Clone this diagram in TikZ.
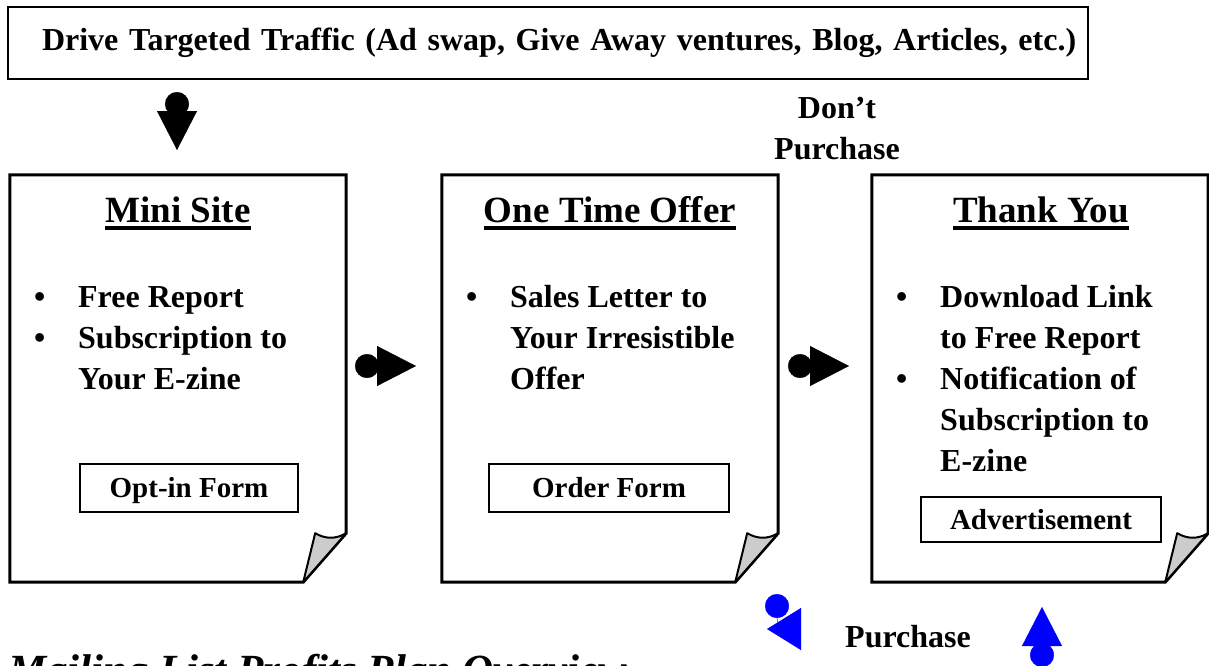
\documentclass[tikz,border=0pt]{standalone}
\usepackage{fontspec}
\setmainfont{Liberation Serif}
\usepackage{tikz}
\usetikzlibrary{positioning,arrows.meta}
\definecolor{fpBlue}{RGB}{0,0,255}
\definecolor{fpCurl}{RGB}{204,204,204}
\tikzset{
    base/.style={font=\bfseries\fontsize{32}{41}\selectfont},
    banner/.style={base, rectangle, draw, line width=2.5pt, minimum height=72,
                   text width=1012, inner xsep=34, align=left},
    sheet/.style={rectangle, minimum width=336, minimum height=407, inner sep=0},
    sheetline/.style={line width=3pt},
    curl/.style={draw, fill=fpCurl, line width=2pt, line join=round},
    heading/.style={font=\bfseries\fontsize{37}{44}\selectfont, inner sep=0, anchor=base},
    uline/.style={line width=3.5pt},
    items/.style={base, inner sep=0, anchor=base west},
    form/.style={font=\bfseries\fontsize{29}{34}\selectfont, draw, line width=2pt,
                 minimum height=48, text height=19, text depth=0},
    flow/.style={line width=0.4pt, {Circle[length=24pt]}-{Triangle[length=39pt, width=40pt]}},
    label/.style={base, align=center, inner sep=0},
    footer/.style={font=\bfseries\itshape\fontsize{43}{50}\selectfont, inner sep=0, anchor=base west}
}

\begin{document}
\begin{tikzpicture}[x=1pt, y=-1pt]
  \useasboundingbox (0,0) rectangle (1209,665);
  \clip (0,0) rectangle (1209,665);
  \fill[white] (0,0) rectangle (1209,665);

  \node[banner] (traffic) at (548,43) {\mbox{Drive Targeted Traffic (Ad swap, Give Away ventures, Blog, Articles, etc.)}};

  % the three pages
  \node[sheet] (mini) at (178,378.5) {};
  \node[sheet] (offer) at (610,378.5) {};
  \node[sheet] (thanks) at (1040,378.5) {};
  \foreach \pg in {mini,offer,thanks}{
    \draw[sheetline] (\pg.north west) -- (\pg.north east) -- ([yshift=49]\pg.south east)
      -- ([xshift=-43]\pg.south east) -- (\pg.south west) -- cycle;
    \draw[curl] ([xshift=-43]\pg.south east) -- ([xshift=-31, yshift=49]\pg.south east)
      to[bend right=30] ([yshift=49]\pg.south east) -- cycle;
  }

  \node[heading] (miniTitle) at (178,222) {Mini Site};
  \node[heading] (offerTitle) at (610,222) {One Time Offer};
  \node[heading] (thanksTitle) at (1041,222) {Thank You};
  \draw[uline] ([yshift=-6]miniTitle.base west) -- ([yshift=-6]miniTitle.base east);
  \draw[uline] ([yshift=-6]offerTitle.base west) -- ([yshift=-6]offerTitle.base east);
  \draw[uline] ([yshift=-6]thanksTitle.base west) -- ([yshift=-6]thanksTitle.base east);

  \node[items] (miniList) at (34,307) {\begin{tabular}[t]{@{}p{44pt}@{}l@{}}
    \textbullet & Free Report\\
    \textbullet & Subscription to\\
                & Your E-zine
  \end{tabular}};
  \node[items] (offerList) at (466,307) {\begin{tabular}[t]{@{}p{44pt}@{}l@{}}
    \textbullet & Sales Letter to\\
                & Your Irresistible\\
                & Offer
  \end{tabular}};
  \node[items] (thanksList) at (896,307) {\begin{tabular}[t]{@{}p{44pt}@{}l@{}}
    \textbullet & Download Link\\
                & to Free Report\\
    \textbullet & Notification of\\
                & Subscription to\\
                & E-zine
  \end{tabular}};

  \node[form, minimum width=218] (optin) at (189,488) {Opt-in Form};
  \node[form, minimum width=240] (order) at (609,488) {Order Form};
  \node[form, minimum width=240, minimum height=45] (advert) at (1041,519.5) {Advertisement};

  % connectors
  \coordinate (in1) at (177,92);
  \coordinate (in2) at (177,150);
  \coordinate (go1) at (355,366);
  \coordinate (go2) at (416,366);
  \coordinate (go3) at (788,366);
  \coordinate (go4) at (849,366);
  \coordinate (buy1) at (777,594);
  \coordinate (buy2) at (767,629);
  \coordinate (buy3) at (1042,667);
  \coordinate (buy4) at (1042,607);
  \draw[flow] (in1) -- (in2);
  \draw[flow] (go1) -- (go2);
  \draw[flow] (go3) -- (go4);
  \draw[flow, fpBlue, {Circle[length=24pt]}-{Triangle[length=34pt, width=42pt]}]
    (buy1) .. controls +(0,36) and +(24,0) .. (buy2);
  \draw[flow, fpBlue] (buy3) -- (buy4);

  \node[label] (skip) at (837,129) {Don’t\\Purchase};
  \node[label] (buy) at (908,637) {Purchase};
  \node[footer] (plan) at (8,684) {Mailing List Profits Plan Overview};
\end{tikzpicture}
\end{document}
